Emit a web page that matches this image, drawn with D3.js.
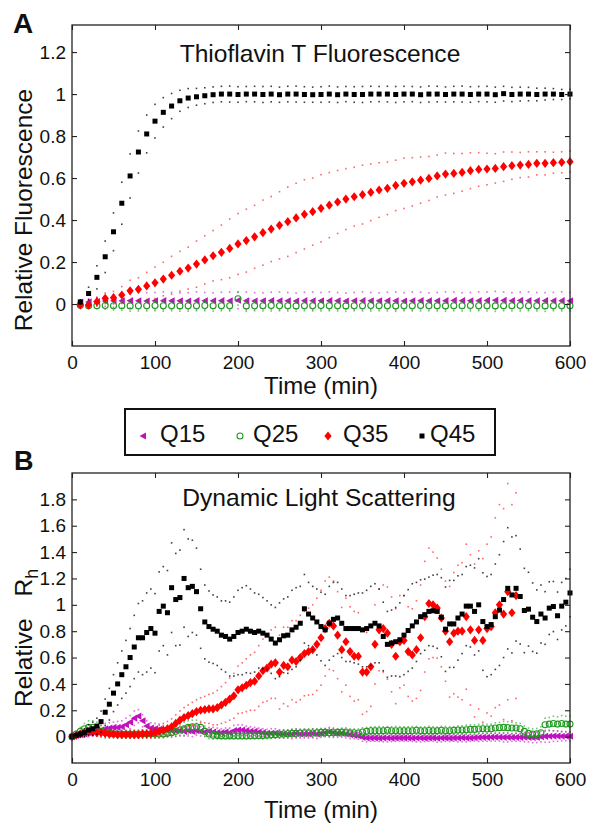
<!DOCTYPE html>
<html>
<head>
<meta charset="utf-8">
<script src="https://cdnjs.cloudflare.com/ajax/libs/d3/7.8.5/d3.min.js"></script>
<style>
  body { margin: 0; background: #fff; }
  svg { display: block; font-family: 'Liberation Sans', Arial, sans-serif; }
</style>
</head>
<body>
<script>
// ---- data: panel A (ThT fluorescence), sampled every 10 min ----
const timesA = d3.range(10, 601, 10);

const q45A = [0.01, 0.05, 0.127, 0.225, 0.344, 0.48, 0.61, 0.724, 0.81, 0.871,
  0.913, 0.943, 0.968, 0.981, 0.987, 0.992, 0.997, 1.0, 1.0, 0.998,
  1.0, 1.0, 0.998, 1.0, 0.997, 1.0, 1.0, 0.998, 0.997, 0.998,
  1.0, 0.997, 1.0, 0.998, 0.998, 1.0, 1.0, 1.0, 0.998, 1.0,
  1.0, 0.997, 1.0, 1.0, 0.998, 1.0, 1.0, 0.998, 1.0, 1.0,
  0.997, 1.002, 0.998, 1.0, 1.0, 0.998, 1.0, 1.0, 0.998, 1.0];
const q45SdA = [0.01, 0.03, 0.055, 0.075, 0.09, 0.1, 0.105, 0.1, 0.09, 0.08,
  0.07, 0.06, 0.05, 0.045, 0.04, 0.038, 0.037, 0.037, 0.038, 0.037,
  0.036, 0.037, 0.038, 0.037, 0.036, 0.037, 0.038, 0.037, 0.036, 0.037,
  0.038, 0.037, 0.036, 0.037, 0.038, 0.037, 0.036, 0.037, 0.038, 0.037,
  0.036, 0.037, 0.038, 0.037, 0.036, 0.037, 0.038, 0.037, 0.036, 0.037,
  0.036, 0.035, 0.034, 0.033, 0.032, 0.03, 0.028, 0.026, 0.024, 0.022];

const q35A = [-0.005, -0.005, 0.011, 0.027, 0.03, 0.043, 0.063, 0.07, 0.086, 0.101,
  0.119, 0.137, 0.156, 0.171, 0.19, 0.21, 0.23, 0.246, 0.265, 0.286,
  0.302, 0.32, 0.34, 0.357, 0.375, 0.392, 0.41, 0.427, 0.44, 0.456,
  0.471, 0.486, 0.5, 0.511, 0.521, 0.532, 0.543, 0.551, 0.565, 0.575,
  0.582, 0.59, 0.598, 0.61, 0.619, 0.622, 0.627, 0.635, 0.641, 0.643,
  0.646, 0.654, 0.659, 0.662, 0.665, 0.67, 0.67, 0.673, 0.675, 0.678];
const q35SdA = [0.01, 0.015, 0.02, 0.025, 0.03, 0.04, 0.05, 0.055, 0.065, 0.075,
  0.08, 0.09, 0.095, 0.1, 0.11, 0.115, 0.12, 0.13, 0.14, 0.145,
  0.15, 0.15, 0.155, 0.155, 0.16, 0.165, 0.165, 0.165, 0.16, 0.16,
  0.155, 0.15, 0.145, 0.14, 0.14, 0.135, 0.13, 0.125, 0.12, 0.12,
  0.115, 0.11, 0.105, 0.1, 0.1, 0.095, 0.09, 0.085, 0.08, 0.075,
  0.07, 0.07, 0.065, 0.06, 0.06, 0.055, 0.055, 0.05, 0.05, 0.05];

const q15A = [0.008, 0.01, 0.012, 0.014, 0.015, 0.015, 0.016, 0.015, 0.014, 0.015,
  0.016, 0.015, 0.015, 0.014, 0.016, 0.015, 0.015, 0.016, 0.015, 0.018,
  0.015, 0.014, 0.015, 0.016, 0.015, 0.015, 0.014, 0.016, 0.015, 0.015,
  0.016, 0.015, 0.014, 0.015, 0.016, 0.015, 0.015, 0.016, 0.015, 0.014,
  0.015, 0.016, 0.015, 0.015, 0.016, 0.017, 0.016, 0.015, 0.016, 0.017,
  0.018, 0.017, 0.016, 0.017, 0.016, 0.015, 0.016, 0.015, 0.016, 0.015];
const q15SdA = [0.01, 0.015, 0.02, 0.025, 0.03, 0.035, 0.035, 0.04, 0.04, 0.04,
  0.042, 0.04, 0.038, 0.04, 0.042, 0.04, 0.038, 0.04, 0.042, 0.04,
  0.042, 0.04, 0.038, 0.04, 0.042, 0.04, 0.038, 0.04, 0.042, 0.04,
  0.042, 0.04, 0.038, 0.04, 0.042, 0.04, 0.038, 0.04, 0.042, 0.04,
  0.042, 0.04, 0.038, 0.04, 0.042, 0.04, 0.038, 0.04, 0.042, 0.04,
  0.042, 0.04, 0.038, 0.04, 0.042, 0.04, 0.038, 0.04, 0.042, 0.04];

const q25A = [-0.006, -0.008, -0.008, -0.007, -0.008, -0.008, -0.009, -0.008, -0.008, -0.007,
  -0.008, -0.008, -0.009, -0.008, -0.008, -0.007, -0.008, -0.008, -0.008, 0.025,
  -0.009, -0.008, -0.008, -0.007, -0.008, -0.008, -0.009, -0.008, -0.008, -0.007,
  -0.008, -0.008, -0.009, -0.008, -0.008, -0.007, -0.008, -0.008, -0.009, -0.008,
  -0.008, -0.007, -0.008, -0.008, -0.009, -0.008, -0.008, -0.007, -0.008, -0.008,
  -0.009, -0.008, -0.008, -0.007, -0.008, -0.008, -0.009, -0.008, -0.008, -0.008];
const q25SdA = [0.01, 0.012, 0.015, 0.018, 0.02, 0.022, 0.025, 0.025, 0.025, 0.025,
  0.026, 0.024, 0.025, 0.026, 0.024, 0.025, 0.026, 0.024, 0.025, 0.03,
  0.026, 0.024, 0.025, 0.026, 0.024, 0.025, 0.026, 0.024, 0.025, 0.026,
  0.024, 0.025, 0.026, 0.024, 0.025, 0.026, 0.024, 0.025, 0.026, 0.024,
  0.025, 0.026, 0.024, 0.025, 0.026, 0.024, 0.025, 0.026, 0.024, 0.025,
  0.026, 0.024, 0.025, 0.026, 0.024, 0.025, 0.026, 0.024, 0.025, 0.026];

// ---- data: panel B (DLS), sampled every 5 min ----
const timesB = d3.range(0, 601, 5);

const q45B = [0.0, 0.01, 0.02, 0.03, 0.05, 0.06, 0.08, 0.114, 0.185, 0.246, 0.33, 0.40, 0.47, 0.53, 0.60, 0.68, 0.75, 0.75, 0.79, 0.82, 0.785,
  0.95, 0.99, 0.94, 1.13, 1.04, 1.055, 1.2, 1.13, 1.14, 1.10, 0.97, 0.87, 0.835, 0.815, 0.8, 0.77, 0.76, 0.74, 0.76, 0.79,
  0.80, 0.815, 0.80, 0.79, 0.80, 0.785, 0.77, 0.74, 0.71, 0.735, 0.765, 0.77, 0.81, 0.83, 0.86, 0.97, 0.93, 0.90, 0.87, 0.835,
  0.81, 0.86, 0.89, 0.90, 0.86, 0.82, 0.82, 0.82, 0.82, 0.81, 0.82, 0.84, 0.86, 0.84, 0.76, 0.70, 0.71, 0.72, 0.735, 0.77,
  0.805, 0.84, 0.87, 0.91, 0.925, 0.95, 0.955, 0.95, 0.906, 0.815, 0.855, 0.855, 0.9, 0.93, 0.99, 0.99, 0.95, 1.0, 0.873, 0.835,
  0.85, 0.91, 0.96, 1.04, 1.125, 1.075, 1.125, 1.063, 0.957, 0.967, 0.906, 0.873, 0.93, 0.9, 0.975, 0.987, 0.917, 0.99, 1.02, 1.09];
const q45SdB = [0.01, 0.015, 0.02, 0.03, 0.04, 0.05, 0.06,
  0.08, 0.1, 0.12, 0.14, 0.16, 0.18, 0.2, 0.22, 0.24,
  0.26, 0.28, 0.3, 0.3, 0.3,
  0.3, 0.3, 0.32, 0.34, 0.35, 0.36, 0.37, 0.37, 0.35, 0.33, 0.3, 0.28,
  0.27, 0.26, 0.26, 0.26, 0.27, 0.28, 0.3, 0.32, 0.33, 0.33, 0.32, 0.3, 0.28, 0.27, 0.26, 0.26, 0.27, 0.28,
  0.28, 0.29, 0.3, 0.3, 0.28, 0.26, 0.24, 0.24, 0.25, 0.26, 0.27, 0.28, 0.28, 0.27, 0.26, 0.25, 0.25, 0.26, 0.27, 0.28,
  0.29, 0.3, 0.3, 0.28, 0.26, 0.25, 0.25, 0.26, 0.28, 0.3, 0.31, 0.32, 0.3, 0.28, 0.27, 0.26, 0.27, 0.28, 0.3, 0.32,
  0.33, 0.33, 0.32, 0.3, 0.3, 0.31, 0.33, 0.35, 0.37, 0.38, 0.38, 0.4, 0.42, 0.44, 0.46, 0.44, 0.4, 0.36, 0.32, 0.28,
  0.26, 0.24, 0.22, 0.2, 0.2, 0.19, 0.18, 0.18, 0.18, 0.18];

// Q35 DLS stops at 535 min
const q35B = [0.0, 0.01, 0.02, 0.03, 0.035, 0.035, 0.03, 0.03, 0.025, 0.02, 0.02, 0.015, 0.015, 0.015, 0.015, 0.015, 0.015, 0.02, 0.02, 0.025, 0.03,
  0.04, 0.05, 0.06, 0.075, 0.1, 0.125, 0.145, 0.16, 0.175, 0.19, 0.2, 0.205, 0.21, 0.21, 0.22, 0.24, 0.26, 0.285, 0.31, 0.355,
  0.37, 0.39, 0.41, 0.42, 0.46, 0.50, 0.52, 0.55, 0.56, 0.49, 0.54, 0.53, 0.58, 0.57, 0.60, 0.63, 0.645, 0.66, 0.70, 0.75,
  0.82, 0.86, 0.84, 0.77, 0.66, 0.72, 0.645, 0.61, 0.61, 0.49, 0.49, 0.53, 0.70, 0.81, 0.82, 0.785, 0.70, 0.61, 0.72, 0.73,
  0.645, 0.62, 0.66, 0.75, 0.91, 1.01, 1.0, 0.975, 0.9, 0.80, 0.72, 0.785, 0.80, 0.80, 0.91, 0.81, 0.73, 0.81, 0.73, 0.82,
  0.835, 0.94, 1.0, 0.93, 1.10, 0.94, 1.07];
const q35SdB = [0.01, 0.015, 0.02, 0.02, 0.025, 0.025, 0.025, 0.025, 0.025, 0.02, 0.02, 0.02, 0.02, 0.02, 0.02, 0.025, 0.025, 0.03, 0.03, 0.035, 0.04,
  0.045, 0.05, 0.055, 0.06, 0.065, 0.07, 0.075, 0.08, 0.085, 0.09, 0.095, 0.1, 0.11, 0.12, 0.13, 0.14, 0.15, 0.16, 0.17, 0.18,
  0.19, 0.2, 0.21, 0.22, 0.23, 0.24, 0.25, 0.26, 0.27, 0.28, 0.29, 0.3, 0.3, 0.31, 0.32, 0.32, 0.33, 0.34, 0.35, 0.36,
  0.36, 0.35, 0.34, 0.33, 0.32, 0.33, 0.34, 0.34, 0.33, 0.32, 0.3, 0.3, 0.3, 0.31, 0.33, 0.35, 0.36, 0.36, 0.35, 0.34,
  0.34, 0.35, 0.37, 0.4, 0.42, 0.42, 0.4, 0.38, 0.37, 0.38, 0.42, 0.46, 0.5, 0.52, 0.55, 0.57, 0.58, 0.6, 0.62, 0.64,
  0.68, 0.72, 0.76, 0.8, 0.82, 0.82, 0.78];

const q15B = [0.0, 0.01, 0.015, 0.02, 0.03, 0.035, 0.04, 0.05, 0.06, 0.065, 0.07, 0.07, 0.075, 0.09, 0.11, 0.14, 0.155, 0.12, 0.08, 0.065, 0.06,
  0.055, 0.05, 0.05, 0.045, 0.045, 0.045, 0.04, 0.045, 0.04, 0.045, 0.04, 0.035, 0.04, 0.035, 0.03, 0.03, 0.035, 0.03, 0.045, 0.05,
  0.05, 0.045, 0.04, 0.04, 0.035, 0.03, 0.025, 0.025, 0.025, 0.02, 0.02, 0.02, 0.02, 0.025, 0.02, 0.02, 0.02, 0.025, 0.02, 0.025,
  0.03, 0.035, 0.03, 0.025, 0.025, 0.02, 0.015, 0.01, 0.005, -0.005, -0.01, -0.01, -0.01, -0.012, -0.01, -0.01, -0.012, -0.01, -0.01, -0.01,
  -0.01, -0.012, -0.01, -0.01, -0.012, -0.01, -0.01, -0.012, -0.01, -0.01, -0.012, -0.01, -0.01, -0.008, -0.01, -0.01, -0.008, -0.006, -0.005, -0.005,
  -0.004, -0.003, -0.004, -0.005, -0.005, -0.006, -0.005, -0.005, -0.004, -0.005, -0.006, -0.005, 0.0, 0.002, 0.003, 0.004, 0.004, 0.003, 0.004, 0.003];
const q15SdB = [0.01, 0.015, 0.02, 0.025, 0.03, 0.03, 0.035, 0.035, 0.04, 0.04, 0.04, 0.045, 0.045, 0.05, 0.05, 0.055, 0.05, 0.045, 0.04, 0.04, 0.04,
  0.04, 0.035, 0.035, 0.04, 0.04, 0.035, 0.035, 0.04, 0.04, 0.035, 0.035, 0.03, 0.03, 0.035, 0.035, 0.03, 0.03, 0.035, 0.04, 0.04,
  0.04, 0.035, 0.035, 0.03, 0.03, 0.03, 0.03, 0.035, 0.035, 0.03, 0.03, 0.03, 0.035, 0.035, 0.03, 0.03, 0.03, 0.035, 0.035, 0.03,
  0.03, 0.035, 0.035, 0.03, 0.03, 0.03, 0.03, 0.025, 0.025, 0.03, 0.03, 0.025, 0.025, 0.025, 0.03, 0.03, 0.025, 0.025, 0.025, 0.025,
  0.025, 0.025, 0.03, 0.03, 0.025, 0.025, 0.025, 0.03, 0.03, 0.025, 0.025, 0.025, 0.03, 0.03, 0.03, 0.025, 0.025, 0.03, 0.03, 0.03,
  0.03, 0.03, 0.03, 0.035, 0.035, 0.03, 0.03, 0.03, 0.035, 0.035, 0.04, 0.04, 0.04, 0.045, 0.045, 0.04, 0.04, 0.035, 0.035, 0.035];

const q25B = [0.0, 0.02, 0.04, 0.06, 0.07, 0.07, 0.06, 0.04, 0.03, 0.025, 0.02, 0.02, 0.02, 0.02, 0.02, 0.02, 0.02, 0.02, 0.02, 0.02, 0.02,
  0.02, 0.02, 0.025, 0.03, 0.04, 0.05, 0.06, 0.07, 0.075, 0.075, 0.07, 0.04, 0.02, 0.01, 0.008, 0.005, 0.005, 0.005, 0.005, 0.005,
  0.005, 0.005, 0.006, 0.006, 0.007, 0.008, 0.01, 0.012, 0.015, 0.018, 0.02, 0.022, 0.025, 0.025, 0.028, 0.03, 0.03, 0.028, 0.03, 0.032,
  0.032, 0.03, 0.03, 0.032, 0.035, 0.035, 0.03, 0.03, 0.028, 0.035, 0.04, 0.045, 0.045, 0.045, 0.045, 0.048, 0.045, 0.045, 0.045, 0.045,
  0.045, 0.045, 0.048, 0.045, 0.045, 0.047, 0.045, 0.045, 0.048, 0.045, 0.045, 0.048, 0.05, 0.05, 0.052, 0.055, 0.055, 0.058, 0.06, 0.058,
  0.06, 0.065, 0.068, 0.07, 0.068, 0.065, 0.065, 0.06, 0.04, 0.025, 0.02, 0.022, 0.03, 0.09, 0.095, 0.1, 0.095, 0.1, 0.095, 0.095];
const q25SdB = [0.01, 0.02, 0.03, 0.04, 0.05, 0.05, 0.05, 0.045, 0.04, 0.035, 0.03, 0.03, 0.03, 0.03, 0.03, 0.03, 0.03, 0.03, 0.03, 0.03, 0.03,
  0.03, 0.03, 0.03, 0.035, 0.04, 0.045, 0.05, 0.05, 0.05, 0.05, 0.045, 0.04, 0.035, 0.03, 0.025, 0.02, 0.02, 0.02, 0.02, 0.02,
  0.02, 0.02, 0.02, 0.02, 0.02, 0.025, 0.025, 0.025, 0.025, 0.03, 0.03, 0.03, 0.03, 0.03, 0.03, 0.03, 0.03, 0.03, 0.03, 0.03,
  0.03, 0.032, 0.03, 0.028, 0.03, 0.032, 0.03, 0.028, 0.03, 0.032, 0.03, 0.028, 0.03, 0.032, 0.03, 0.028, 0.03, 0.032, 0.03, 0.03,
  0.03, 0.032, 0.03, 0.028, 0.03, 0.032, 0.03, 0.028, 0.03, 0.032, 0.03, 0.028, 0.03, 0.032, 0.035, 0.035, 0.035, 0.035, 0.035, 0.035,
  0.035, 0.04, 0.04, 0.045, 0.045, 0.045, 0.04, 0.04, 0.04, 0.04, 0.04, 0.04, 0.045, 0.05, 0.05, 0.055, 0.055, 0.06, 0.06, 0.06];

const xTicks = [0, 100, 200, 300, 400, 500, 600];
const yTicksA = [0, 0.2, 0.4, 0.6, 0.8, 1, 1.2];
const yTicksB = [0, 0.2, 0.4, 0.6, 0.8, 1, 1.2, 1.4, 1.6, 1.8];
const seriesNames = ['Q15', 'Q25', 'Q35', 'Q45'];

// ---- drawing ----
const width = 590;
const height = 826;
const left = 72;
const right = 570;

const colors = { Q15: '#c010c0', Q25: '#1f9a1f', Q35: '#ff0000', Q45: '#000000' };

const svg = d3.select('body')
  .append('svg')
  .attr('width', width)
  .attr('height', height)

const x = d3.scaleLinear().domain([0, 600]).range([left, right]);
const yA = d3.scaleLinear().domain([-0.2, 1.329]).range([346, 25]);
const yB = d3.scaleLinear().domain([-0.2, 2]).range([763, 473]);

function marker(g, name) {
  const c = colors[name];
  if (name === 'Q15') {
    g.append('path').attr('d', 'M-3.5,0L3,-3.6L3,3.6Z').attr('fill', c);
  } else if (name === 'Q25') {
    g.append('circle').attr('r', 3).attr('fill', 'none').attr('stroke', c).attr('stroke-width', 1.1);
  } else if (name === 'Q35') {
    g.append('path').attr('d', 'M0,-4.6L3.6,0L0,4.6L-3.6,0Z').attr('fill', c);
  } else {
    g.append('rect').attr('x', -2.5).attr('y', -2.5).attr('width', 5).attr('height', 5).attr('fill', c);
  }
}

function drawSeries(y, times, mean, sd, name) {
  const g = svg.append('g');
  const band = [];
  mean.forEach((m, i) => {
    band.push([times[i], m + sd[i]]);
    band.push([times[i], m - sd[i]]);
  });
  g.selectAll('.dot')
    .data(band)
    .enter()
    .append('rect')
    .attr('x', d => x(d[0]) - 0.8)
    .attr('y', d => y(d[1]) - 0.8)
    .attr('width', 1.6)
    .attr('height', 1.6)
    .attr('fill', colors[name])
    .attr('opacity', name === 'Q45' ? 0.75 : 0.6)

  g.selectAll('.mark')
    .data(mean)
    .enter()
    .append('g')
    .attr('transform', (d, i) => `translate(${x(times[i])},${y(d)})`)
    .each(function () { marker(d3.select(this), name); })
}

function drawAxes(y, yTicks) {
  const [y1, y0] = y.range();
  const style = g => {
    g.select('.domain').remove();
    g.selectAll('line').attr('stroke', '#222').attr('stroke-width', 1.1);
    g.attr('font-size', 19).attr('font-family', null);
    g.selectAll('text').attr('fill', '#111');
  };
  svg.append('g')
    .attr('transform', `translate(0,${y1})`)
    .call(d3.axisBottom(x).tickValues(xTicks).tickSize(-5).tickPadding(10).tickFormat(d3.format('d')))
    .call(style)
  svg.append('g')
    .attr('transform', `translate(0,${y0})`)
    .call(d3.axisTop(x).tickValues(xTicks).tickSize(-5).tickFormat(''))
    .call(style)
  svg.append('g')
    .attr('transform', `translate(${left},0)`)
    .call(d3.axisLeft(y).tickValues(yTicks).tickSize(-5).tickPadding(6).tickFormat(d => String(d)))
    .call(style)
  svg.append('g')
    .attr('transform', `translate(${right},0)`)
    .call(d3.axisRight(y).tickValues(yTicks).tickSize(-5).tickFormat(''))
    .call(style)
  svg.append('rect')
    .attr('x', left)
    .attr('y', y0)
    .attr('width', right - left)
    .attr('height', y1 - y0)
    .attr('fill', 'none')
    .attr('stroke', '#222')
    .attr('stroke-width', 1.3)
}

// Panel A
drawSeries(yA, timesA, q15A, q15SdA, 'Q15');
drawSeries(yA, timesA, q25A, q25SdA, 'Q25');
drawSeries(yA, timesA, q35A, q35SdA, 'Q35');
drawSeries(yA, timesA, q45A, q45SdA, 'Q45');
drawAxes(yA, yTicksA);

// Panel B
drawSeries(yB, timesB, q15B, q15SdB, 'Q15');
drawSeries(yB, timesB, q25B, q25SdB, 'Q25');
drawSeries(yB, timesB.slice(0, q35B.length), q35B, q35SdB, 'Q35');
drawSeries(yB, timesB, q45B, q45SdB, 'Q45');
drawAxes(yB, yTicksB);

// Texts
const label = (txt, xPos, yPos, size, weight) => svg.append('text')
  .text(txt)
  .attr('x', xPos)
  .attr('y', yPos)
  .attr('font-size', size)
  .attr('font-weight', weight || 'normal')
  .attr('fill', '#111')

label('A', 13, 33, 28, 'bold');
label('B', 14, 470, 27, 'bold');
label('Thioflavin T Fluorescence', 320, 62, 24.6).attr('text-anchor', 'middle');
label('Dynamic Light Scattering', 319, 506, 24.6).attr('text-anchor', 'middle');
label('Time (min)', 321, 394, 24).attr('text-anchor', 'middle');
label('Time (min)', 321, 818, 24).attr('text-anchor', 'middle');

svg.append('text')
  .text('Relative Fluorescence')
  .attr('transform', 'translate(32,210) rotate(-90)')
  .attr('text-anchor', 'middle')
  .attr('font-size', 24.5)
  .attr('fill', '#111')

const rh = svg.append('text')
  .attr('transform', 'translate(32,707) rotate(-90)')
  .attr('font-size', 24.5)
  .attr('fill', '#111')
rh.append('tspan').text('Relative');
rh.append('tspan').attr('dx', 22).text('R');
rh.append('tspan').attr('dy', 6).attr('font-size', 18).text('h');

// Legend
svg.append('rect')
  .attr('x', 125)
  .attr('y', 409)
  .attr('width', 370)
  .attr('height', 46)
  .attr('fill', 'white')
  .attr('stroke', '#111')
  .attr('stroke-width', 2)

const legendMarkX = [143, 240, 328, 422];
const legendTextX = [160, 253, 343, 430];
seriesNames.forEach((name, i) => {
  const g = svg.append('g').attr('transform', `translate(${legendMarkX[i]},436)`);
  marker(g, name);
  label(name, legendTextX[i], 442, 24);
});
</script>
</body>
</html>
